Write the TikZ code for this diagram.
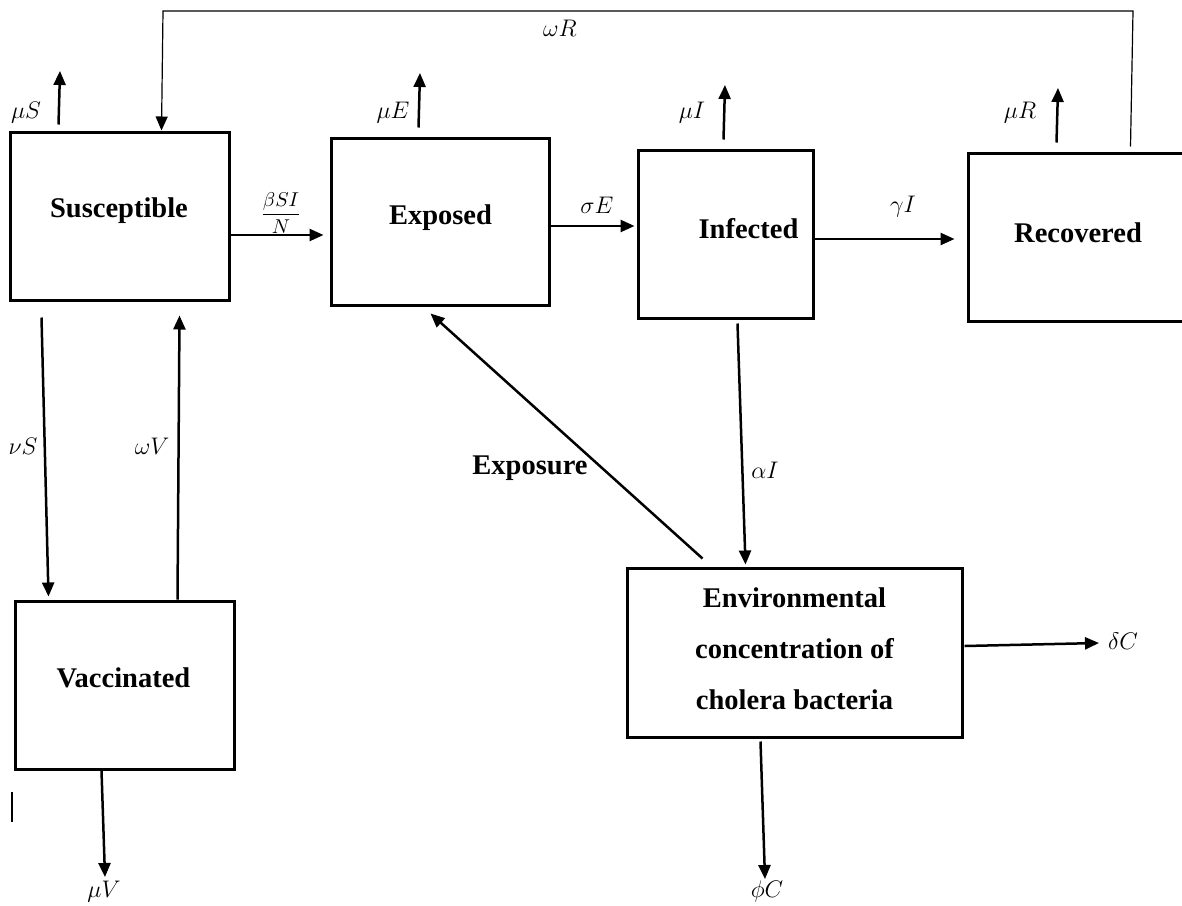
\documentclass[tikz,border=0pt]{standalone}
\usepackage{fontspec}
\setmainfont{Liberation Serif}
\usetikzlibrary{arrows.meta,calc}
\begin{document}
\begin{tikzpicture}[x=0.5pt,y=-0.5pt,
 box/.style={draw,line width=1.5pt,inner sep=0pt},
 arr/.style={line width=1.25pt,-{Triangle[length=7pt,width=6pt]}},
 thinline/.style={line width=0.6pt},
 thinarr/.style={line width=0.6pt,-{Triangle[length=7pt,width=6pt]}},
 lab/.style={font=\fontsize{13}{15}\selectfont, inner sep=0pt},
 ttl/.style={font=\fontsize{14.25}{17}\selectfont\bfseries, inner sep=0pt}]
\useasboundingbox (0,0) rectangle (1182,905);

% boxes
\node[box,minimum width=109.5pt,minimum height=84pt] (S) at (119.5,216) {};
\node[ttl] (St) at (119,211) {Susceptible};
\node[box,minimum width=109pt,minimum height=83.5pt] (E) at (440,221.5) {};
\node[ttl] (Et) at (440.5,218) {Exposed};
\node[box,minimum width=87.5pt,minimum height=84pt] (I) at (725.5,234) {};
\node[ttl] (It) at (748.5,229) {Infected};
\node[box,minimum width=111pt,minimum height=84pt] (R) at (1079,237) {};
\node[ttl] (Rt) at (1078,233) {Recovered};
\node[box,minimum width=109.5pt,minimum height=84pt] (V) at (124.5,685) {};
\node[ttl] (Vt) at (123.5,678) {Vaccinated};
\node[box,minimum width=167.5pt,minimum height=84.5pt] (C) at (794.5,652.5) {};
\node[ttl,align=center,font=\fontsize{14.25}{25.5}\selectfont\bfseries] (Ct) at (794.5,649) {Environmental\\concentration of\\cholera bacteria};

% free ends
\coordinate (muSend) at (60,71);
\coordinate (muEend) at (420,73);
\coordinate (muIend) at (725,85);
\coordinate (muRend) at (1058,88);
\coordinate (muVend) at (105,877);
\coordinate (phiCend) at (765,879);
\coordinate (deltaCend) at (1099,643);
\coordinate (tr) at (1133,11);
\coordinate (tl) at (163,11);

% death arrows
\draw[arr] ($(S.north west)+(50,-6)$) -- (muSend);
\draw[arr] ($(E.north west)+(89,-9)$) -- (muEend);
\draw[arr] ($(I.north west)+(87,-9)$) -- (muIend);
\draw[arr] ($(R.north west)+(90,-9)$) -- (muRend);
\draw[arr] ($(V.south west)+(88,0)$) -- (muVend);
\draw[arr] ($(C.south west)+(135,3)$) -- (phiCend);
\draw[arr] ($(C.east)+(1,-6.5)$) -- (deltaCend);

% transitions
\draw[arr] ($(S.east)+(0,19)$) -- ($(E.west)+(-6,13.5)$);
\draw[arr] ($(E.east)+(0,4.5)$) -- ($(I.west)+(-2,-8)$);
\draw[arr] ($(I.east)+(0,5)$) -- ($(R.west)+(-12,2)$);
\draw[arr] ($(S.south west)+(33,16)$) -- ($(V.north west)+(35,-3)$);
\draw[arr] ($(V.north west)+(164,0)$) -- ($(S.south west)+(171,14)$);
\draw[arr] ($(I.south west)+(101,4)$) -- ($(C.north west)+(120,-2)$);
\draw[arr] ($(C.north west)+(77,-8)$) -- ($(E.south west)+(101,7)$);
\draw[thinarr] ($(R.north west)+(164,-5)$) -- (tr) -- (tl) -- ($(S.north west)+(153,0)$);

% stray mark
\draw[thinline] (12,792) -- (12,822);

% labels
\node[lab] (lmuS) at (26,113) {$\mu S$};
\node[lab] (lmuE) at (393,113) {$\mu E$};
\node[lab] (lmuI) at (692,113) {$\mu I$};
\node[lab] (lmuR) at (1020,113) {$\mu R$};
\node[lab] (lmuV) at (104,892) {$\mu V$};
\node[lab] (lphiC) at (767,891) {$\phi C$};
\node[lab] (ldeltaC) at (1123,641) {$\delta C$};
\node[lab,font=\fontsize{10}{12}\selectfont] (lbeta) at (281,213) {$\displaystyle\frac{\beta SI}{N}$};
\node[lab] (lsigma) at (597,205) {$\sigma E$};
\node[lab] (lgamma) at (903,207) {$\gamma I$};
\node[lab] (lnu) at (23,446) {$\nu S$};
\node[lab] (lomegaV) at (152,446) {$\omega V$};
\node[lab] (lalpha) at (765,470) {$\alpha I$};
\node[lab] (lomegaR) at (560,28) {$\omega R$};
\node[ttl] (lexp) at (530,468) {Exposure};
\end{tikzpicture}
\end{document}
